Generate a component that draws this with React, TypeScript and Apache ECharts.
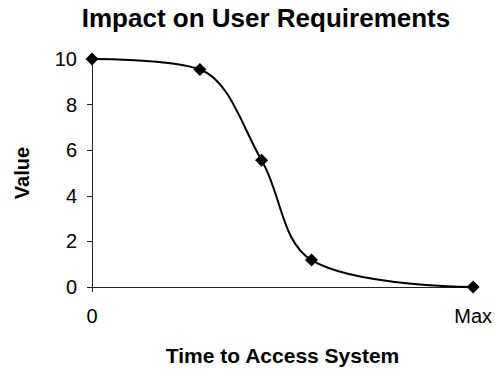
import React, { useEffect, useRef } from "react";
import * as echarts from "echarts";

const titleText = "Impact on User Requirements";
const xAxisTitle = "Time to Access System";
const yAxisTitle = "Value";
const xTickLabels: Record<number, string> = { 0: "0", 100: "Max" };
const timeValues = [0, 28.3, 44.5, 57.6, 100];
const requirementValues = [10, 9.54, 5.56, 1.18, 0];

export default function App() {
  const ref = useRef<HTMLDivElement>(null);
  useEffect(() => {
    if (!ref.current) return;
    const chart = echarts.init(ref.current, null, { renderer: "svg" });
    const font = "Liberation Sans, Arial, sans-serif";
    chart.setOption({
      animation: false,
      backgroundColor: "#fff",
      title: {
        text: titleText,
        left: 261,
        textAlign: "center",
        top: 0,
        textStyle: { fontFamily: font, fontSize: 26, fontWeight: "bold", color: "#000" },
      },
      grid: { left: 92, right: 20, top: 59, bottom: 86 },
      xAxis: {
        type: "value",
        min: 0,
        max: 100,
        interval: 100,
        name: xAxisTitle,
        nameLocation: "middle",
        nameGap: 58,
        nameTextStyle: { fontFamily: font, fontSize: 21, fontWeight: "bold", color: "#000" },
        axisLine: { show: true, lineStyle: { color: "#222", width: 1 } },
        axisTick: { show: true, length: 5, lineStyle: { color: "#222" } },
        splitLine: { show: false },
        axisLabel: {
          margin: 19,
          fontFamily: font,
          fontSize: 20,
          color: "#000",
          formatter: (v: number) => xTickLabels[v] ?? "",
        },
      },
      yAxis: {
        type: "value",
        min: 0,
        max: 10,
        interval: 2,
        name: yAxisTitle,
        nameLocation: "middle",
        nameGap: 60,
        nameRotate: 90,
        nameTextStyle: { fontFamily: font, fontSize: 20, fontWeight: "bold", color: "#000" },
        axisLine: { show: true, lineStyle: { color: "#222", width: 1 } },
        axisTick: { show: true, length: 5, lineStyle: { color: "#222" } },
        splitLine: { show: false },
        axisLabel: { margin: 15, fontFamily: font, fontSize: 20, color: "#000" },
      },
      series: [
        {
          type: "line",
          data: timeValues.map((t, i) => [t, requirementValues[i]]),
          smooth: 0.35,
          symbol: "diamond",
          symbolSize: 13,
          lineStyle: { color: "#000", width: 2 },
          itemStyle: { color: "#000" },
        },
      ],
    });
    return () => chart.dispose();
  }, []);
  return <div ref={ref} style={{ width: 495, height: 373, position: "absolute", left: 0, top: 0 }} />;
}
